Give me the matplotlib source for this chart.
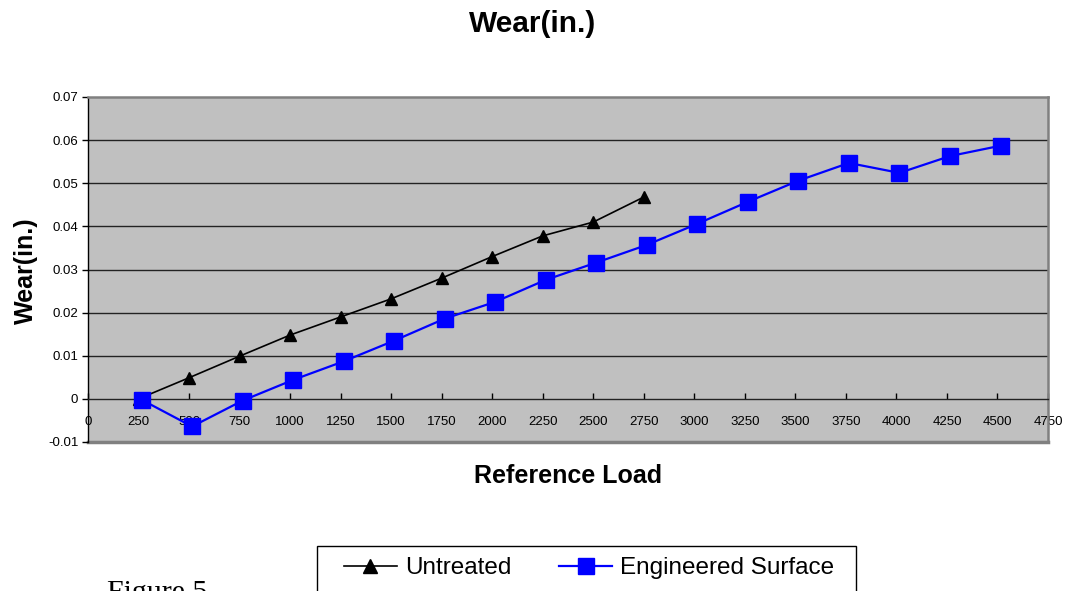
import matplotlib
matplotlib.use("Agg")
import matplotlib.pyplot as plt
from matplotlib.ticker import FuncFormatter
from matplotlib.patches import Rectangle

untreated_load = [250, 500, 750, 1000, 1250, 1500, 1750, 2000, 2250, 2500, 2750]
untreated_wear = [0.0, 0.0049, 0.0099, 0.0148, 0.019, 0.0232, 0.028, 0.033, 0.0378, 0.041, 0.0468]

engineered_load = [265, 515, 765, 1015, 1265, 1515, 1765, 2015, 2265, 2515, 2765,
                   3015, 3265, 3515, 3765, 4015, 4265, 4515]
engineered_wear = [-0.0002, -0.0064, -0.0004, 0.0044, 0.0087, 0.0135, 0.0186, 0.0225,
                   0.0276, 0.0316, 0.0357, 0.0406, 0.0457, 0.0506, 0.0547, 0.0524,
                   0.0563, 0.0587]

x_ticks = list(range(0, 4751, 250))
y_ticks = [-0.01, 0.0, 0.01, 0.02, 0.03, 0.04, 0.05, 0.06, 0.07]

plt.rcParams['font.family'] = ['Liberation Sans', 'DejaVu Sans']

W, H = 1065, 591
fig = plt.figure(figsize=(W/100, H/100), dpi=100)
ax = fig.add_axes([88/W, 1-442/H, (1048-88)/W, (442-97)/H])
ax.set_facecolor('#C0C0C0')

ax.set_xlim(0, 4750)
ax.set_ylim(-0.01, 0.07)
ax.set_xticks(x_ticks)
ax.set_yticks(y_ticks)
ax.yaxis.set_major_formatter(FuncFormatter(lambda v, p: '0' if abs(v) < 1e-9 else f'{v:.2f}'))
ax.xaxis.set_major_formatter(FuncFormatter(lambda v, p: f'{int(round(v))}'))

for y in y_ticks:
    if y not in (0.0, -0.01, 0.07):
        ax.axhline(y, color='#222222', lw=1.0, zorder=1)

for s in ['top', 'right']:
    ax.spines[s].set_color('#808080')
    ax.spines[s].set_linewidth(1.8)
ax.spines['left'].set_color('black')
ax.spines['left'].set_linewidth(1.0)
ax.spines['bottom'].set_position(('data', 0))
ax.spines['bottom'].set_color('#222222')
ax.spines['bottom'].set_linewidth(1.0)
ax.axhline(-0.01, color='#808080', lw=2.5, zorder=1, clip_on=False)

ax.tick_params(axis='x', direction='in', length=4, width=1, labelsize=9.5, pad=12, colors='black')
ax.tick_params(axis='y', direction='out', length=4, width=1, labelsize=9.5, pad=3)

ax.plot(untreated_load, untreated_wear, color='black', lw=1.2, marker='^', markersize=9,
        markerfacecolor='black', markeredgecolor='black', label='Untreated', zorder=3, clip_on=False)
ax.plot(engineered_load, engineered_wear, color='#0000FF', lw=1.6, marker='s', markersize=11,
        markerfacecolor='#0000FF', markeredgecolor='#0000FF', label='Engineered Surface', zorder=4, clip_on=False)

fig.text(0.5, 1-24/H, 'Wear(in.)', ha='center', va='center', fontsize=21.5, fontweight='bold')
fig.text(568/W, 1-476/H, 'Reference Load', ha='center', va='center', fontsize=18, fontweight='bold')
fig.text(26/W, 1-271/H, 'Wear(in.)', ha='center', va='center', fontsize=18, fontweight='bold', rotation=90)

# legend box
fig.patches.append(Rectangle((317/W, 1-600/H), (856-317)/W, (600-546)/H, transform=fig.transFigure,
                             facecolor='white', edgecolor='black', lw=1.0, zorder=0))
leg = fig.legend(loc='center left', bbox_to_anchor=(344/W, 1-568/H), ncol=2,
                 fontsize=17.5, frameon=False, borderpad=0, borderaxespad=0,
                 handlelength=2.18, columnspacing=1.97, handletextpad=0.33)
for h in leg.legend_handles:
    h.set_markersize(10 if h.get_marker() == '^' else 12)

fig.text(107/W, 1-580/H, 'Figure 5', ha='left', va='top', fontsize=21.5,
         family=['Liberation Serif', 'DejaVu Serif'])

fig.savefig('out.png', dpi=100)
